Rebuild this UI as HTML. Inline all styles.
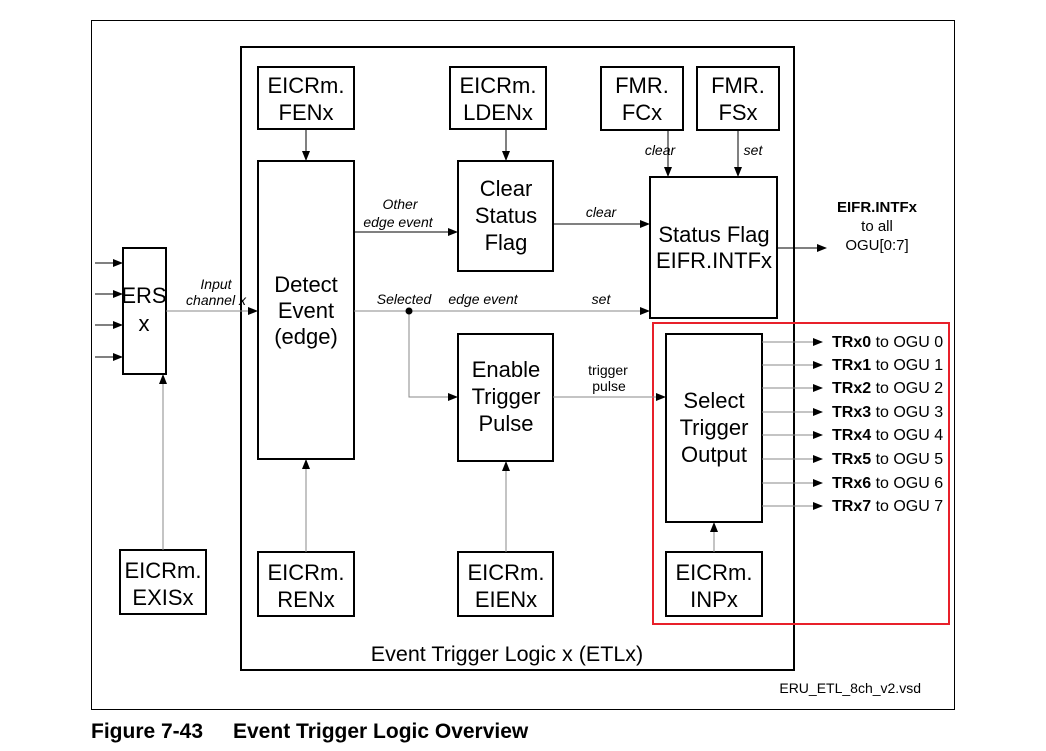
<!DOCTYPE html>
<html><head><style>
body{margin:0;background:#fff;width:1046px;height:746px;overflow:hidden}
svg text{font-family:"Liberation Sans",sans-serif;fill:#000}
</style></head><body>
<svg width="1046" height="746" xmlns="http://www.w3.org/2000/svg">
<defs><marker id="a" markerWidth="10" markerHeight="8" refX="9" refY="4" orient="auto" markerUnits="userSpaceOnUse"><path d="M0,0L10,4L0,8z" fill="#000"/></marker></defs>
<rect x="91.5" y="20.5" width="863" height="689" fill="none" stroke="#000" stroke-width="1"/>
<rect x="241" y="47" width="553" height="623" fill="none" stroke="#000" stroke-width="2"/>
<g fill="#fff" stroke="#000" stroke-width="2">
<rect x="258" y="67" width="96" height="62"/>
<rect x="450" y="67" width="96" height="62"/>
<rect x="601" y="67" width="82" height="63"/>
<rect x="697" y="67" width="82" height="63"/>
<rect x="258" y="161" width="96" height="298"/>
<rect x="458" y="161" width="95" height="110"/>
<rect x="650" y="177" width="127" height="141"/>
<rect x="123" y="248" width="43" height="126"/>
<rect x="458" y="334" width="95" height="127"/>
<rect x="666" y="334" width="96" height="188"/>
<rect x="120" y="550" width="86" height="64"/>
<rect x="258" y="552" width="96" height="64"/>
<rect x="458" y="552" width="95" height="64"/>
<rect x="666" y="552" width="96" height="64"/>
</g>
<rect x="653" y="323" width="296" height="301" fill="none" stroke="#e8202a" stroke-width="2"/>
<g stroke="#000" stroke-width="1" fill="none" marker-end="url(#a)">
<line x1="306" y1="129" x2="306" y2="160"/>
<line x1="506" y1="129" x2="506" y2="160"/>
<line x1="668" y1="130" x2="668" y2="176"/>
<line x1="738" y1="130" x2="738" y2="176"/>
<line x1="354" y1="232" x2="457" y2="232"/>
<line x1="553" y1="224" x2="649" y2="224"/>
<line x1="777" y1="248" x2="826" y2="248"/>
<line x1="95" y1="263" x2="122" y2="263"/>
<line x1="95" y1="294" x2="122" y2="294"/>
<line x1="95" y1="325" x2="122" y2="325"/>
<line x1="95" y1="357" x2="122" y2="357"/>
</g>
<g stroke="#888" stroke-width="1" fill="none" marker-end="url(#a)">
<line x1="166" y1="311" x2="257" y2="311"/>
<line x1="354" y1="311" x2="649" y2="311"/>
<polyline points="409,311 409,397 457,397"/>
<line x1="553" y1="397" x2="665" y2="397"/>
<line x1="163" y1="550" x2="163" y2="375"/>
<line x1="306" y1="552" x2="306" y2="460"/>
<line x1="506" y1="552" x2="506" y2="462"/>
<line x1="714" y1="552" x2="714" y2="523"/>
<line x1="762" y1="342" x2="822" y2="342"/>
<line x1="762" y1="365" x2="822" y2="365"/>
<line x1="762" y1="388" x2="822" y2="388"/>
<line x1="762" y1="412" x2="822" y2="412"/>
<line x1="762" y1="435" x2="822" y2="435"/>
<line x1="762" y1="459" x2="822" y2="459"/>
<line x1="762" y1="483" x2="822" y2="483"/>
<line x1="762" y1="506" x2="822" y2="506"/>
</g>
<circle cx="409" cy="311" r="3.5" fill="#000"/>
<g font-size="22" text-anchor="middle">
<text x="306" y="93">EICRm.</text><text x="306" y="120">FENx</text>
<text x="498" y="93">EICRm.</text><text x="498" y="120">LDENx</text>
<text x="642" y="93">FMR.</text><text x="642" y="120">FCx</text>
<text x="738" y="93">FMR.</text><text x="738" y="120">FSx</text>
<text x="306" y="292">Detect</text><text x="306" y="318">Event</text><text x="306" y="344">(edge)</text>
<text x="506" y="196">Clear</text><text x="506" y="223">Status</text><text x="506" y="250">Flag</text>
<text x="714" y="242">Status Flag</text><text x="714" y="268">EIFR.INTFx</text>
<text x="144" y="303">ERS</text><text x="144" y="331">x</text>
<text x="506" y="377">Enable</text><text x="506" y="404">Trigger</text><text x="506" y="431">Pulse</text>
<text x="714" y="408">Select</text><text x="714" y="435">Trigger</text><text x="714" y="462">Output</text>
<text x="163" y="578">EICRm.</text><text x="163" y="605">EXISx</text>
<text x="306" y="580">EICRm.</text><text x="306" y="607">RENx</text>
<text x="506" y="580">EICRm.</text><text x="506" y="607">EIENx</text>
<text x="714" y="580">EICRm.</text><text x="714" y="607">INPx</text>
<text x="507" y="661" font-size="21.5">Event Trigger Logic x (ETLx)</text>
</g>
<g font-size="14" font-style="italic" text-anchor="middle">
<text x="660" y="155">clear</text><text x="753" y="155">set</text>
<text x="400" y="209">Other</text><text x="398" y="227">edge event</text>
<text x="601" y="217">clear</text>
<text x="216" y="289">Input</text><text x="216" y="305">channel x</text>
<text x="404" y="304">Selected</text><text x="483" y="304">edge event</text>
<text x="601" y="304">set</text>
</g>
<g font-size="15" text-anchor="middle">
<text x="608" y="375" font-size="14">trigger</text><text x="609" y="391" font-size="14">pulse</text>
<text x="877" y="212" font-weight="bold">EIFR.INTFx</text>
<text x="877" y="231">to all</text><text x="877" y="250">OGU[0:7]</text>
</g>
<g font-size="16">
<text x="832" y="347"><tspan font-weight="bold">TRx0</tspan> to OGU 0</text>
<text x="832" y="370"><tspan font-weight="bold">TRx1</tspan> to OGU 1</text>
<text x="832" y="393"><tspan font-weight="bold">TRx2</tspan> to OGU 2</text>
<text x="832" y="417"><tspan font-weight="bold">TRx3</tspan> to OGU 3</text>
<text x="832" y="440"><tspan font-weight="bold">TRx4</tspan> to OGU 4</text>
<text x="832" y="464"><tspan font-weight="bold">TRx5</tspan> to OGU 5</text>
<text x="832" y="488"><tspan font-weight="bold">TRx6</tspan> to OGU 6</text>
<text x="832" y="511"><tspan font-weight="bold">TRx7</tspan> to OGU 7</text>
</g>
<text x="921" y="693" font-size="14" text-anchor="end">ERU_ETL_8ch_v2.vsd</text>
<text x="91" y="738" font-size="21" font-weight="bold">Figure 7-43</text>
<text x="233" y="738" font-size="21" font-weight="bold">Event Trigger Logic Overview</text>
</svg>
</body></html>
